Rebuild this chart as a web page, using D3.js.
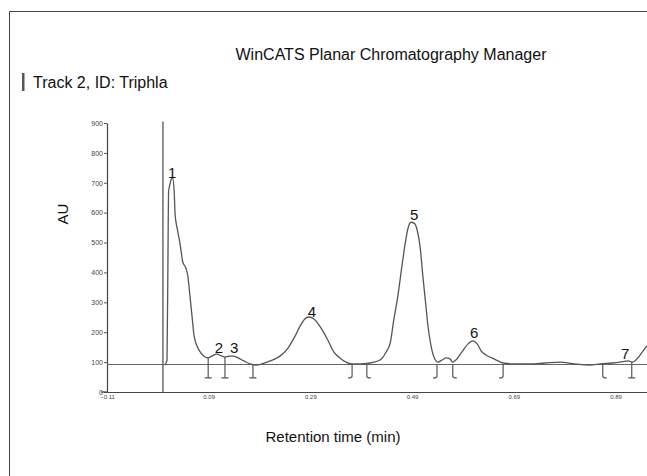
<!DOCTYPE html>
<html>
<head>
<meta charset="utf-8">
<script src="https://cdn.jsdelivr.net/npm/d3@7"></script>
<style>
  body { margin: 0; background: #fff; }
  text { font-family: "Liberation Sans", Arial, sans-serif; }
</style>
</head>
<body>
<script>
// densitogram trace (retention time, AU)
const retention = [
  0.004, 0.008, 0.010, 0.011, 0.013, 0.016, 0.019, 0.022, 0.024, 0.028,
  0.034, 0.039, 0.045, 0.049, 0.053, 0.057, 0.061, 0.067, 0.075, 0.083,
  0.089, 0.096, 0.106, 0.116, 0.122, 0.130, 0.138, 0.148, 0.159, 0.171,
  0.183, 0.195, 0.211, 0.230, 0.246, 0.258, 0.270, 0.279, 0.287, 0.297,
  0.307, 0.317, 0.327, 0.336, 0.348, 0.360, 0.372, 0.388, 0.407, 0.427,
  0.439, 0.447, 0.454, 0.462, 0.470, 0.476, 0.482, 0.488, 0.494, 0.500,
  0.506, 0.511, 0.517, 0.521, 0.527, 0.533, 0.541, 0.549, 0.557, 0.565,
  0.570, 0.576, 0.588, 0.600, 0.610, 0.618, 0.626, 0.635, 0.647, 0.659,
  0.669, 0.692, 0.722, 0.751, 0.781, 0.810, 0.840, 0.860, 0.883, 0.899,
  0.915, 0.924, 0.934, 0.944, 0.952
];
const absorbance = [
  90, 107, 475, 669, 689, 709, 716, 675, 592, 548,
  492, 435, 415, 388, 324, 257, 191, 154, 130, 117,
  114, 120, 127, 120, 117, 120, 120, 114, 104, 94,
  90, 94, 104, 120, 147, 181, 221, 244, 251, 244,
  224, 197, 164, 134, 114, 100, 94, 94, 97, 107,
  134, 164, 241, 321, 421, 492, 548, 568, 565, 542,
  482, 391, 291, 224, 157, 117, 100, 107, 114, 110,
  100, 107, 134, 161, 171, 161, 137, 124, 114, 104,
  97, 94, 94, 97, 100, 94, 90, 94, 97, 100,
  104, 100, 114, 137, 154
];

const peakLabels = ["1", "2", "3", "4", "5", "6", "7"];
const peakTimes = [0.018, 0.110, 0.140, 0.293, 0.494, 0.612, 0.909];
const peakLabelAU = [717, 132, 132, 252, 577, 179, 112];

// integration drop marks
const markerTimes = [0.089, 0.122, 0.177, 0.372, 0.401, 0.539, 0.570, 0.669, 0.865, 0.922];
const markerKinds = ["I", "I", "I", "J", "L", "J", "L", "J", "L", "I"];

const baselineAU = 92;
const markerBottomAU = 47;
const yTickValues = [0, 100, 200, 300, 400, 500, 600, 700, 800, 900];
const xTickValues = [-0.11, 0.09, 0.29, 0.49, 0.69, 0.89];

const width = 647;
const height = 476;
const plot = { left: 107, right: 647, top: 123, bottom: 392 };

const svg = d3
  .select("body")
  .append("svg")
  .attr("width", width)
  .attr("height", height);

svg.append("rect").attr("width", width).attr("height", height).attr("fill", "white");

// outer frame (top and left only, the scan is cropped elsewhere)
svg
  .append("path")
  .attr("d", `M9.5,${height} V11.5 H${width}`)
  .attr("fill", "none")
  .attr("stroke", "#444")
  .attr("stroke-width", 1);

svg
  .append("text")
  .attr("x", 391)
  .attr("y", 60)
  .attr("text-anchor", "middle")
  .attr("font-size", 16)
  .attr("fill", "#111")
  .text("WinCATS Planar Chromatography Manager");

svg
  .append("rect")
  .attr("x", 22)
  .attr("y", 73)
  .attr("width", 2.5)
  .attr("height", 18)
  .attr("fill", "#555");

svg
  .append("text")
  .attr("x", 33)
  .attr("y", 88)
  .attr("font-size", 16)
  .attr("fill", "#111")
  .text("Track 2, ID: Triphla");

const xScale = d3.scaleLinear().domain([-0.11, 0.952]).range([plot.left, plot.right]);
const yScale = d3.scaleLinear().domain([0, 900]).range([plot.bottom, plot.top]);

// y axis
const yAxis = svg
  .append("g")
  .attr("transform", `translate(${plot.left},0)`)
  .call(d3.axisLeft(yScale).tickValues(yTickValues).tickSize(3).tickSizeOuter(0).tickPadding(1));
yAxis.select(".domain").attr("stroke", "#444").attr("stroke-width", 1.2);
yAxis.selectAll(".tick line").attr("stroke", "#555");
yAxis
  .selectAll(".tick text")
  .attr("font-size", 7)
  .attr("fill", "#444")
  .attr("font-family", "'Liberation Sans', Arial, sans-serif");

// x axis
const xAxis = svg
  .append("g")
  .attr("transform", `translate(0,${plot.bottom})`)
  .call(
    d3
      .axisBottom(xScale)
      .tickValues(xTickValues)
      .tickFormat(d3.format(".2f"))
      .tickSize(0)
      .tickSizeOuter(0)
      .tickPadding(3),
  );
xAxis.select(".domain").attr("stroke", "#444").attr("stroke-width", 1.2);
xAxis
  .selectAll(".tick text")
  .attr("font-size", 6)
  .attr("fill", "#444")
  .attr("font-family", "'Liberation Sans', Arial, sans-serif");

// the scanned x axis runs a little past the y axis on the left
svg
  .append("line")
  .attr("x1", plot.left - 6)
  .attr("x2", plot.left)
  .attr("y1", plot.bottom)
  .attr("y2", plot.bottom)
  .attr("stroke", "#444")
  .attr("stroke-width", 1.2);

// axis titles
svg
  .append("text")
  .attr("transform", `translate(68,214) rotate(-90)`)
  .attr("text-anchor", "middle")
  .attr("font-size", 15)
  .attr("fill", "#111")
  .text("AU");

svg
  .append("text")
  .attr("x", 333)
  .attr("y", 442)
  .attr("text-anchor", "middle")
  .attr("font-size", 15)
  .attr("fill", "#111")
  .text("Retention time (min)");

svg
  .append("clipPath")
  .attr("id", "plot-clip")
  .append("rect")
  .attr("x", plot.left)
  .attr("y", 0)
  .attr("width", plot.right - plot.left)
  .attr("height", height);

const chart = svg.append("g").attr("clip-path", "url(#plot-clip)");

// baseline and start line
chart
  .append("line")
  .attr("x1", xScale(-0.11))
  .attr("x2", xScale(0.952))
  .attr("y1", yScale(baselineAU))
  .attr("y2", yScale(baselineAU))
  .attr("stroke", "#666")
  .attr("stroke-width", 1.2);

chart
  .append("line")
  .attr("x1", xScale(0))
  .attr("x2", xScale(0))
  .attr("y1", yScale(0))
  .attr("y2", yScale(905))
  .attr("stroke", "#555")
  .attr("stroke-width", 1.3);

// trace
const points = retention.map((t, i) => ({ t, au: absorbance[i] }));
const line = d3
  .line()
  .x((d) => xScale(d.t))
  .y((d) => yScale(d.au))
  .curve(d3.curveMonotoneX);

chart
  .append("path")
  .datum(points)
  .attr("fill", "none")
  .attr("stroke", "#555")
  .attr("stroke-width", 1.3)
  .attr("d", line);

// integration marks
const traceAt = (t) => {
  const i = d3.bisectLeft(retention, t);
  if (i <= 0) return absorbance[0];
  if (i >= retention.length) return absorbance[absorbance.length - 1];
  const f = (t - retention[i - 1]) / (retention[i] - retention[i - 1]);
  return absorbance[i - 1] + f * (absorbance[i] - absorbance[i - 1]);
};

markerTimes.forEach((t, i) => {
  const kind = markerKinds[i];
  const x = xScale(t);
  const top = kind === "I" ? yScale(Math.max(traceAt(t), baselineAU)) : yScale(baselineAU);
  const bottom = yScale(markerBottomAU);
  let d;
  if (kind === "I") d = `M${x},${top} V${bottom} M${x - 3.5},${bottom} H${x + 3.5}`;
  else if (kind === "J") d = `M${x},${top} V${bottom - 2} Q${x},${bottom} ${x - 4},${bottom}`;
  else d = `M${x},${top} V${bottom - 2} Q${x},${bottom} ${x + 4},${bottom}`;
  chart
    .append("path")
    .attr("d", d)
    .attr("fill", "none")
    .attr("stroke", "#555")
    .attr("stroke-width", 1.2);
});

// peak numbers
svg
  .append("g")
  .selectAll("text")
  .data(peakLabels)
  .enter()
  .append("text")
  .attr("x", (d, i) => xScale(peakTimes[i]))
  .attr("y", (d, i) => yScale(peakLabelAU[i]))
  .attr("text-anchor", "middle")
  .attr("font-size", 15)
  .attr("fill", "#111")
  .text((d) => d);
</script>
</body>
</html>
